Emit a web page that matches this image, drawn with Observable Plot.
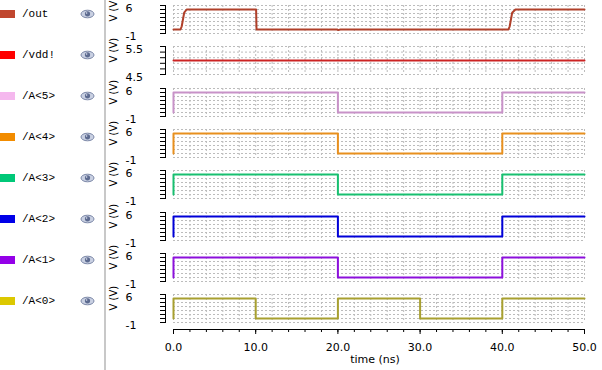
<!DOCTYPE html>
<html><head><meta charset="utf-8">
<script src="https://cdn.jsdelivr.net/npm/d3@7"></script>
<script src="https://cdn.jsdelivr.net/npm/@observablehq/plot@0.6"></script>
<style>
body{margin:0;background:#fff;}
#root{position:relative;width:602px;height:370px;overflow:hidden;font-family:"DejaVu Sans",sans-serif;}
.sw{position:absolute;left:0;width:15px;height:8px;}
.nm{position:absolute;left:22px;font:11px "Liberation Mono",monospace;line-height:14px;color:#000;white-space:pre;}
.eye{position:absolute;left:80px;}
.sep{position:absolute;left:104px;top:0;width:2px;height:370px;background:#c8c8c8;}
</style></head><body><div id="root"><div class="sep"></div></div>
<script>
// ---- data ----
const signalNames = ["/out", "/vdd!", "/A<5>", "/A<4>", "/A<3>", "/A<2>", "/A<1>", "/A<0>"];
const swatchColors = ["#c0462e", "#ff0000", "#f5b8ee", "#f28c00", "#00c878", "#0000e8", "#9400e8", "#dcc800"];
const lineColors = ["#b0402a", "#cc2424", "#c892c8", "#e8901e", "#18c070", "#0000d8", "#8c10dc", "#a8a030"];

const outTime = [0, 0.85, 1.0, 1.15, 1.3, 1.6, 10.05, 10.1, 19.9, 20.05, 20.3, 40.75, 40.9, 41.05, 41.2, 41.6, 50];
const outVolt = [0, 0, 0.8, 2.5, 4.2, 5, 5, 0, 0, -0.15, 0, 0, 0.8, 2.5, 4.2, 5, 5];
const vddTime = [0, 50];
const vddVolt = [5, 5];
const a5Time = [0, 0, 20, 20, 40, 40, 50];
const a5Volt = [0, 5, 5, 0, 0, 5, 5];
const a4Time = [0, 0, 20, 20, 40, 40, 50];
const a4Volt = [0, 5, 5, 0, 0, 5, 5];
const a3Time = [0, 0, 20, 20, 40, 40, 50];
const a3Volt = [0, 5, 5, 0, 0, 5, 5];
const a2Time = [0, 0, 20, 20, 40, 40, 50];
const a2Volt = [0, 5, 5, 0, 0, 5, 5];
const a1Time = [0, 0, 20, 20, 40, 40, 50];
const a1Volt = [0, 5, 5, 0, 0, 5, 5];
const a0Time = [0, 0, 10, 10, 20, 20, 30, 30, 40, 40, 50];
const a0Volt = [0, 5, 5, 0, 0, 5, 5, 0, 0, 5, 5];

const timeDomain = [0, 50];
const xTicks = [0, 10, 20, 30, 40, 50];
const xTickLabels = ["0.0", "10.0", "20.0", "30.0", "40.0", "50.0"];
const xMinorTicks = [0, 2, 4, 6, 8, 10, 12, 14, 16, 18, 20, 22, 24, 26, 28, 30, 32, 34, 36, 38, 40, 42, 44, 46, 48, 50];
const digitalDomain = [-1, 6];
const digitalTicks = [-1, 0, 1, 2, 3, 4, 5, 6];
const digitalLabels = [-1, 6];
const vddDomain = [4.5, 5.5];
const vddTicks = [4.5, 4.7, 4.9, 5.1, 5.3, 5.5];
const vddLabels = [4.5, 5.5];
const yAxisLabel = "V (V)";
const xAxisLabel = "time (ns)";

const series = [
  [outTime, outVolt, digitalDomain, digitalTicks, digitalLabels],
  [vddTime, vddVolt, vddDomain, vddTicks, vddLabels],
  [a5Time, a5Volt, digitalDomain, digitalTicks, digitalLabels],
  [a4Time, a4Volt, digitalDomain, digitalTicks, digitalLabels],
  [a3Time, a3Volt, digitalDomain, digitalTicks, digitalLabels],
  [a2Time, a2Volt, digitalDomain, digitalTicks, digitalLabels],
  [a1Time, a1Volt, digitalDomain, digitalTicks, digitalLabels],
  [a0Time, a0Volt, digitalDomain, digitalTicks, digitalLabels]
];

// ---- layout ----
const root = document.getElementById("root");
const SVGLEFT = 90, PW = 512, ML = 75, MR = 18, MT = 5, MB = 6, PH = 28, GAP = 8;
const gridStyle = {stroke: "#bcbcbc", strokeOpacity: 1, strokeDasharray: "2,2", strokeWidth: 1};
const svgStyle = {fontFamily: "DejaVu Sans, sans-serif", fontSize: "11px", background: "transparent", overflow: "visible", color: "#000"};

series.forEach(([time, volt, dom, ticks, labels], i) => {
  const top = 5 + Math.round(i * 41.3);
  const data = time.map((t, k) => ({t, v: volt[k]}));
  const svg = Plot.plot({
    width: PW, height: PH + MT + MB,
    marginTop: MT, marginBottom: MB, marginLeft: ML, marginRight: MR,
    style: svgStyle,
    x: {domain: timeDomain, insetLeft: GAP, axis: null},
    y: {domain: dom, ticks: ticks, tickSize: 5, tickFormat: () => "", label: null, axis: "left"},
    marks: [
      Plot.ruleX(xMinorTicks, {x: d => d, ...gridStyle}),
      Plot.ruleY(ticks, {y: d => d, x1: timeDomain[0], x2: timeDomain[1], ...gridStyle}),
      Plot.frame({anchor: "left", stroke: "#000", strokeWidth: 1}),
      Plot.text(labels, {y: d => d, text: d => String(d), frameAnchor: "left", dx: -40, dy: -1, textAnchor: "start", lineAnchor: "top", fill: "#000"}),
      Plot.text([yAxisLabel], {text: d => d, frameAnchor: "left", dx: -52, dy: 2, rotate: -90, fill: "#000", fontSize: 10}),
      Plot.line(data, {x: "t", y: "v", stroke: lineColors[i], strokeWidth: 2})
    ]
  });
  svg.style.position = "absolute";
  svg.style.left = SVGLEFT + "px";
  svg.style.top = (top - MT) + "px";
  root.appendChild(svg);

  // legend row
  const cy = 14 + i * 41;
  const sw = document.createElement("div");
  sw.className = "sw"; sw.style.top = (cy - 4) + "px"; sw.style.background = swatchColors[i];
  root.appendChild(sw);
  const nm = document.createElement("div");
  nm.className = "nm"; nm.style.top = (cy - 7) + "px"; nm.textContent = signalNames[i];
  root.appendChild(nm);
  const eye = document.createElementNS("http://www.w3.org/2000/svg", "svg");
  eye.setAttribute("class", "eye"); eye.setAttribute("width", "15"); eye.setAttribute("height", "10");
  eye.style.top = (cy - 5) + "px";
  eye.innerHTML = '<ellipse cx="7.5" cy="5" rx="6.5" ry="3.8" fill="#c9d0e2" stroke="#7d89a8" stroke-width="1"/><circle cx="7.5" cy="4.8" r="2.6" fill="#5d6b90"/><circle cx="6.6" cy="4" r="0.8" fill="#dfe4f0"/>';
  root.appendChild(eye);
});

// bottom time axis
const axisSvg = Plot.plot({
  width: PW, height: 42,
  marginTop: 1, marginBottom: 41, marginLeft: ML, marginRight: MR,
  style: svgStyle,
  x: {domain: timeDomain, insetLeft: GAP},
  marks: [
    Plot.ruleY([0], {x1: timeDomain[0], x2: timeDomain[1], y: () => 0, stroke: "#000"}),
    Plot.axisX(xMinorTicks, {tickSize: 3, tickFormat: () => "", label: null}),
    Plot.axisX(xTicks, {tickSize: 5, tickPadding: 9, tickFormat: (d) => xTickLabels[xTicks.indexOf(d)], label: null, fill: "#000"}),
    Plot.text([xAxisLabel], {text: d => d, frameAnchor: "bottom", dy: 33, fill: "#000"})
  ]
});
axisSvg.style.position = "absolute";
axisSvg.style.left = SVGLEFT + "px";
axisSvg.style.top = "328px";
root.appendChild(axisSvg);
</script>
</body></html>
